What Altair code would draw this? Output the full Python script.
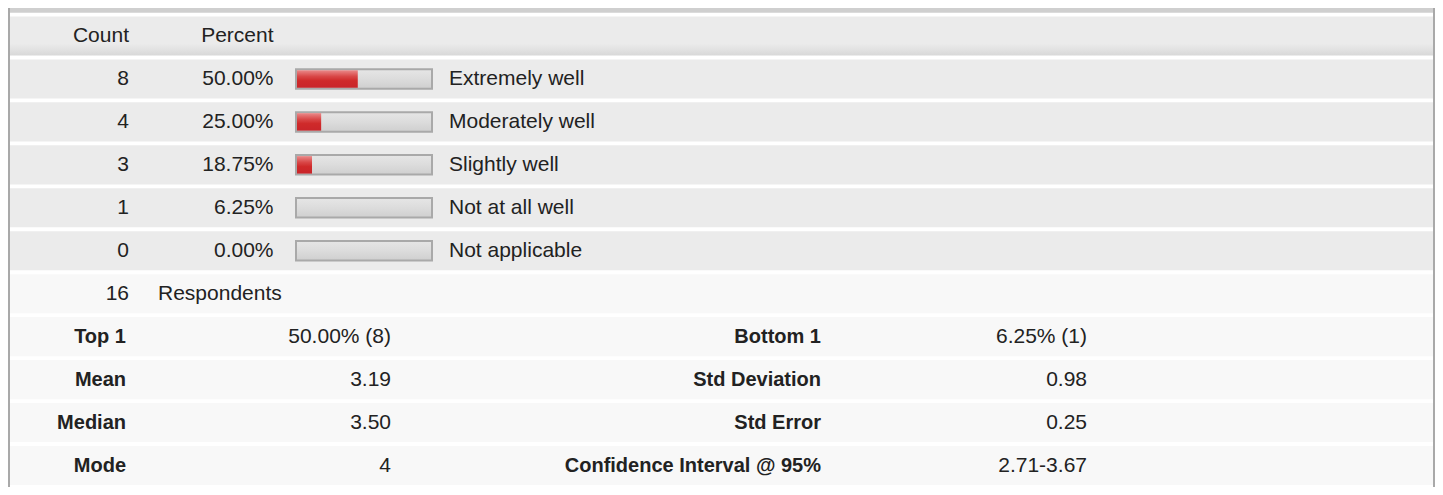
import altair as alt
import pandas as pd

# ---------------- data ----------------
counts = [8, 4, 3, 1, 0]
percents = [50.00, 25.00, 18.75, 6.25, 0.00]
answers = ["Extremely well", "Moderately well", "Slightly well", "Not at all well", "Not applicable"]
respondents = 16
header_labels = ["Count", "Percent"]
respondents_label = "Respondents"
stat_names_left = ["Top 1", "Mean", "Median", "Mode"]
stat_values_left = ["50.00% (8)", "3.19", "3.50", "4"]
stat_names_right = ["Bottom 1", "Std Deviation", "Std Error", "Confidence Interval @ 95%"]
stat_values_right = ["6.25% (1)", "0.98", "0.25", "2.71-3.67"]

W, H = 1427, 479
FONT = "Liberation Sans"
TXT = "#222222"

data_keys = [f"r{i}" for i in range(len(counts))]
stat_keys = [f"s{i}" for i in range(len(stat_names_left))]
row_keys = ["hdr"] + data_keys + ["resp"] + stat_keys

Y = alt.Y("row:N", axis=None,
          scale=alt.Scale(domain=row_keys, range=[6.5, 479], paddingInner=0.09, paddingOuter=0.045))

def grad(stops):
    return {"gradient": "linear", "x1": 0, "y1": 0, "x2": 0, "y2": 1,
            "stops": [{"offset": o, "color": c} for o, c in stops]}

one = pd.DataFrame({"k": [0]})

# frame decorations
top_band = alt.Chart(one).mark_rect(color="#cfcfcf").encode(
    x=alt.value(0), x2=alt.value(W), y=alt.value(0), y2=alt.value(4.8))
left_border = alt.Chart(one).mark_rect(color="#a9a9a9").encode(
    x=alt.value(0), x2=alt.value(2), y=alt.value(0), y2=alt.value(H))
right_border = alt.Chart(one).mark_rect(color="#a9a9a9").encode(
    x=alt.value(W - 2), x2=alt.value(W), y=alt.value(0), y2=alt.value(H))

# row backgrounds
header_bg = alt.Chart(pd.DataFrame({"row": ["hdr"]})).mark_rect(
    fill=grad([(0, "#ebebeb"), (0.7, "#ebebeb"), (1, "#d8d8d8")])).encode(
    x=alt.value(2), x2=alt.value(W - 2), y=Y)
dark_bg = alt.Chart(pd.DataFrame({"row": data_keys})).mark_rect(color="#ebebeb").encode(
    x=alt.value(2), x2=alt.value(W - 2), y=Y)
light_bg = alt.Chart(pd.DataFrame({"row": ["resp"] + stat_keys})).mark_rect(color="#f8f8f8").encode(
    x=alt.value(2), x2=alt.value(W - 2), y=Y)

# bars
bars_df = pd.DataFrame({"row": data_keys, "pct": percents})
boxes = alt.Chart(bars_df).mark_bar(
    orient="horizontal", size=19.5, stroke="#a9a9a9", strokeWidth=2,
    fill=grad([(0, "#e6e6e6"), (0.5, "#dcdcdc"), (1, "#cfcfcf")])).encode(
    x=alt.value(288), x2=alt.value(424), y=Y)
reds = alt.Chart(bars_df).mark_bar(
    orient="horizontal", size=17.5,
    fill=grad([(0, "#ea8a8a"), (0.35, "#d94848"), (0.6, "#cf2a2a"), (1, "#c9252a")])).encode(
    x=alt.X("pct:Q", axis=None,
            scale=alt.Scale(domain=[8.5, 100], range=[289, 423], clamp=True)),
    x2=alt.datum(0), y=Y)

def text_layer(df, field, xpos, align, bold=False, size=21):
    return alt.Chart(df).mark_text(
        align=align, baseline="middle", font=FONT, fontSize=size, color=TXT,
        fontWeight="bold" if bold else "normal").encode(
        x=alt.value(xpos), y=Y, text=f"{field}:N")

hdr_df = pd.DataFrame({"row": ["hdr"], "c": [header_labels[0]], "p": [header_labels[1]]})
rows_df = pd.DataFrame({"row": data_keys,
                        "c": [str(c) for c in counts],
                        "p": [f"{p:.2f}%" for p in percents],
                        "a": answers})
resp_df = pd.DataFrame({"row": ["resp"], "c": [str(respondents)], "l": [respondents_label]})
stat_df = pd.DataFrame({"row": stat_keys,
                        "n1": stat_names_left, "v1": stat_values_left,
                        "n2": stat_names_right, "v2": stat_values_right})

texts = [
    text_layer(hdr_df, "c", 121, "right"),
    text_layer(hdr_df, "p", 265.5, "right"),
    text_layer(rows_df, "c", 121, "right"),
    text_layer(rows_df, "p", 265.5, "right"),
    text_layer(rows_df, "a", 441, "left"),
    text_layer(resp_df, "c", 121, "right"),
    text_layer(resp_df, "l", 150, "left"),
    text_layer(stat_df, "n1", 118, "right", bold=True, size=20),
    text_layer(stat_df, "v1", 383, "right"),
    text_layer(stat_df, "n2", 813, "right", bold=True, size=20),
    text_layer(stat_df, "v2", 1079, "right"),
]

chart = alt.layer(
    top_band, header_bg, dark_bg, light_bg, left_border, right_border,
    boxes, reds, *texts
).properties(
    width=W, height=H, padding=0,
    autosize=alt.AutoSizeParams(type="none"),
    background="white",
).configure_view(strokeWidth=0)

chart.save("out.html", embed_options={"renderer": "svg", "actions": False})
